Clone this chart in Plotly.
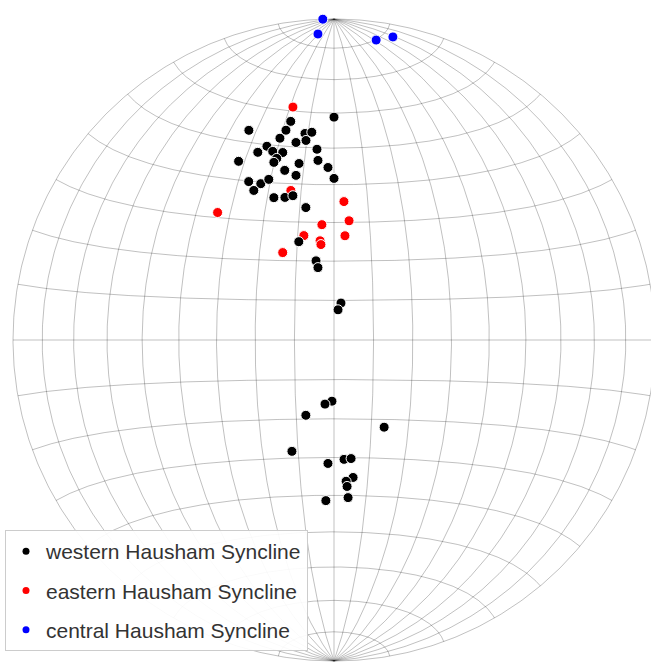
import numpy as np
import plotly.graph_objects as go

# Lineation data (trend, plunge in degrees), lower-hemisphere equal-area (Schmidt) net
west_trend = [0.0, 348.8, 337.9, 347.1, 352.0, 353.9, 352.0, 345.0, 349.1, 340.9,
              354.9, 337.9, 342.0, 344.7, 342.5, 341.3, 331.9, 348.8, 354.9, 358.0,
              343.8, 347.0, 0.0, 331.7, 334.9, 337.9, 331.8, 337.1, 341.0, 344.1,
              348.0, 340.3, 347.2, 347.5, 10.7, 7.6, 181.9, 188.0, 200.5, 150.1,
              200.7, 182.8, 175.2, 171.8, 172.1, 175.1, 174.9, 174.9, 182.9]
west_plunge = [31.2, 31.2, 30.2, 33.4, 35.3, 35.2, 37.3, 35.2, 37.4, 36.3,
               40.1, 37.0, 38.2, 39.3, 40.4, 41.2, 37.0, 43.3, 43.2, 45.3,
               44.2, 46.3, 48.3, 43.3, 45.3, 45.1, 46.1, 50.2, 51.2, 51.4,
               55.3, 63.4, 69.4, 71.2, 80.5, 82.3, 74.5, 73.6, 69.6, 64.4,
               59.6, 58.4, 59.4, 59.4, 54.4, 53.6, 52.2, 49.2, 48.5]

east_trend = [350.0, 317.6, 4.1, 354.0, 7.2, 343.9, 6.0, 352.0, 352.2, 329.6, 343.9]
east_plunge = [27.2, 45.3, 54.4, 60.4, 59.3, 62.3, 63.3, 64.5, 65.5, 64.2, 49.9]

central_trend = [358.0, 357.0, 8.0, 11.0]
central_plunge = [0.0, 5.1, 6.3, 4.3]

series_names = ["western Hausham Syncline", "eastern Hausham Syncline", "central Hausham Syncline"]
series_colors = ["#000000", "#ff0000", "#0000ff"]


def project(trend, plunge):
    t = np.radians(np.asarray(trend, dtype=float))
    p = np.radians(np.asarray(plunge, dtype=float))
    r = np.sqrt(2.0) * np.sin((np.pi / 2 - p) / 2)
    return r * np.sin(t), r * np.cos(t)


def net_xy(E, N, D):
    s = 1.0 / np.sqrt(1.0 + np.clip(D, 0, None))
    return E * s, N * s


# Schmidt net grid (N-S polar axis), 10 degree spacing
gx, gy = [], []
phi = np.radians(np.linspace(-90, 90, 361))
for lon in range(-90, 91, 10):
    l = np.radians(lon)
    E = np.cos(phi) * np.sin(l)
    N = np.sin(phi)
    D = np.cos(phi) * np.cos(l)
    x, y = net_xy(E, N, D)
    gx += list(x) + [None]
    gy += list(y) + [None]
lam = np.radians(np.linspace(-90, 90, 361))
for lat in range(-80, 81, 10):
    f = np.radians(lat)
    E = np.cos(f) * np.sin(lam)
    N = np.sin(f) * np.ones_like(lam)
    D = np.cos(f) * np.cos(lam)
    x, y = net_xy(E, N, D)
    gx += list(x) + [None]
    gy += list(y) + [None]

fig = go.Figure()
fig.add_trace(go.Scatter(x=gx, y=gy, mode="lines",
                         line=dict(color="rgba(0,0,0,0.42)", width=0.6),
                         hoverinfo="skip", showlegend=False))

# draw order: eastern below western, central on top
for tr, pl, ci in [(east_trend, east_plunge, 1), (west_trend, west_plunge, 0),
                   (central_trend, central_plunge, 2)]:
    x, y = project(tr, pl)
    fig.add_trace(go.Scatter(x=x, y=y, mode="markers", name=series_names[ci],
                             marker=dict(size=10, color=series_colors[ci],
                                         line=dict(color="white", width=1)),
                             showlegend=False))

# legend entries
for i, (nm, col) in enumerate(zip(series_names, series_colors)):
    fig.add_trace(go.Scatter(x=[None], y=[None], mode="markers", name=nm,
                             legendgroup=str(i),
                             marker=dict(size=7, color=col), showlegend=True))

R = 321.0
cx, cy = 334.0, 340.0
W, H = 651, 664
fig.update_layout(
    width=W, height=H, autosize=False,
    margin=dict(l=0, r=0, t=0, b=0),
    plot_bgcolor="white", paper_bgcolor="white",
    xaxis=dict(range=[-cx / R, (W - cx) / R], visible=False, fixedrange=True),
    yaxis=dict(range=[(cy - H) / R, cy / R], visible=False, fixedrange=True),
    showlegend=True,
    legend=dict(x=5 / W, y=1 - 530 / H, xanchor="left", yanchor="top",
                bgcolor="rgba(255,255,255,0.92)", bordercolor="#cccccc", borderwidth=1,
                font=dict(family="Liberation Sans, Arial, sans-serif", size=21, color="#333333"),
                itemwidth=30, traceorder="grouped", tracegroupgap=9),
)
fig.write_html("out.html")
